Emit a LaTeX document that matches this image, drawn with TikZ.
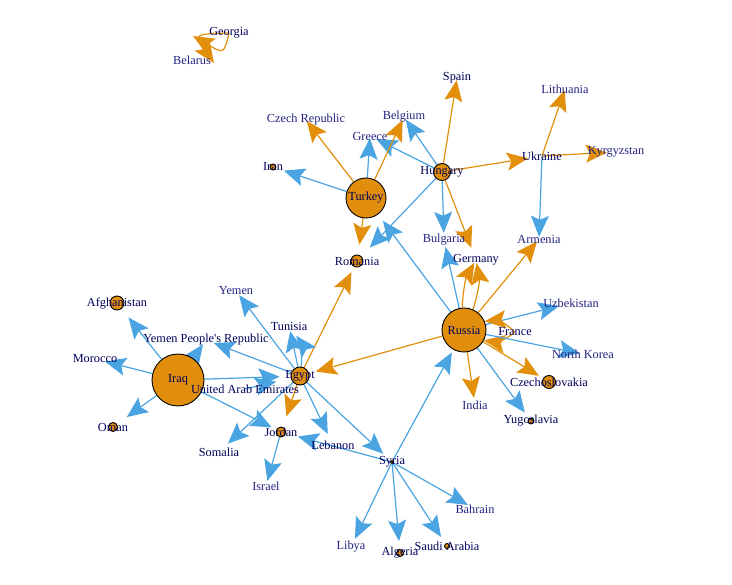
\documentclass[tikz,border=0pt]{standalone}
\usepackage{fontspec}
\setmainfont{Liberation Serif}
\usetikzlibrary{arrows.meta}
\pgfdeclarelayer{edges}
\pgfsetlayers{edges,main}
\definecolor{eblue}{RGB}{74,164,226}
\definecolor{eorange}{RGB}{226,143,12}
\definecolor{nfill}{RGB}{224,142,12}
\definecolor{tdark}{RGB}{0,0,90}
\definecolor{tlight}{RGB}{34,34,130}
\tikzset{
  dot0/.style={circle, inner sep=0pt, minimum size=0pt},
  vtx/.style={circle, inner sep=0pt, draw=black, line width=0.9pt, fill=nfill, minimum size=#1},
  lab/.style={font=\fontsize{12.3}{14}\selectfont, text=tdark, inner sep=0pt},
  labl/.style={lab, text=tlight},
  tipst/.style={-{Stealth[length=21pt,width=18pt,inset=4pt]}},
  be/.style={draw=eblue, line width=1.2pt, tipst, shorten >=#1},
  be/.default=2pt,
  oe/.style={draw=eorange, line width=1.2pt, tipst, shorten >=#1},
  oe/.default=2pt
}
\begin{document}
\begin{tikzpicture}[x=1pt,y=-1pt]
\useasboundingbox (0,0) rectangle (732,585);
% vertices
\node[dot0] (geo) at (229,33) {};
\node[dot0] (bel) at (192,60) {};
\node[dot0] (spa) at (457,78) {};
\node[dot0] (lit) at (565,89) {};
\node[dot0] (cze) at (306,120) {};
\node[dot0] (bgm) at (404,117) {};
\node[dot0] (gre) at (370,136) {};
\node[dot0] (kyr) at (616,152) {};
\node[dot0] (ukr) at (542,156) {};
\node[vtx=6pt] (irn) at (273,167) {};
\node[vtx=17pt] (hun) at (442,172) {};
\node[vtx=40pt] (tur) at (366,198) {};
\node[dot0] (bul) at (444,240) {};
\node[dot0] (arm) at (539,239) {};
\node[vtx=12pt] (rom) at (357,261) {};
\node[dot0] (ger) at (476,260) {};
\node[dot0] (yem) at (236,291) {};
\node[vtx=14pt] (afg) at (117,303) {};
\node[dot0] (uzb) at (571,303) {};
\node[dot0] (tun) at (289,326) {};
\node[vtx=44pt] (rus) at (464,330) {};
\node[dot0] (fra) at (515,332) {};
\node[dot0] (ypr) at (206,340) {};
\node[dot0] (mor) at (95,359) {};
\node[dot0] (nko) at (583,354) {};
\node[vtx=52pt] (irq) at (178,380) {};
\node[vtx=18pt] (egy) at (300,376) {};
\node[dot0] (uae) at (245,389) {};
\node[vtx=13pt] (csk) at (549,382) {};
\node[dot0] (ind) at (475,405) {};
\node[vtx=9pt] (oma) at (113,427) {};
\node[vtx=6pt] (yug) at (531,421) {};
\node[vtx=10pt] (jor) at (281,432) {};
\node[dot0] (som) at (219,452) {};
\node[dot0] (leb) at (333,445) {};
\node[vtx=3pt] (syr) at (392,462) {};
\node[dot0] (isr) at (266,486) {};
\node[dot0] (bah) at (475,509) {};
\node[dot0] (lib) at (351,547) {};
\node[vtx=7pt] (alg) at (400,553) {};
\node[vtx=5pt] (sau) at (447,546) {};
\coordinate (tipA) at (193,36);
\coordinate (tipB) at (214,63);
% labels
\node[lab] (l-geo) at (geo) {Georgia};
\node[labl] (l-bel) at (bel) {Belarus};
\node[lab] (l-spa) at (spa) {Spain};
\node[labl] (l-lit) at (lit) {Lithuania};
\node[labl] (l-cze) at (cze) {Czech Republic};
\node[labl] (l-bgm) at (bgm) {Belgium};
\node[labl] (l-gre) at (gre) {Greece};
\node[labl] (l-kyr) at (kyr) {Kyrgyzstan};
\node[lab] (l-ukr) at (ukr) {Ukraine};
\node[lab] (l-irn) at (irn) {Iran};
\node[lab] (l-hun) at (hun) {Hungary};
\node[lab] (l-tur) at (tur) {Turkey};
\node[labl] (l-bul) at (bul) {Bulgaria};
\node[labl] (l-arm) at (arm) {Armenia};
\node[lab] (l-rom) at (rom) {Romania};
\node[lab] (l-ger) at (ger) {Germany};
\node[labl] (l-yem) at (yem) {Yemen};
\node[lab] (l-afg) at (afg) {Afghanistan};
\node[labl] (l-uzb) at (uzb) {Uzbekistan};
\node[lab] (l-tun) at (tun) {Tunisia};
\node[lab] (l-rus) at (rus) {Russia};
\node[lab] (l-fra) at (fra) {France};
\node[lab] (l-ypr) at (ypr) {Yemen People\textquotesingle s Republic};
\node[lab] (l-mor) at (mor) {Morocco};
\node[labl] (l-nko) at (nko) {North Korea};
\node[lab] (l-irq) at (irq) {Iraq};
\node[lab] (l-egy) at (egy) {Egypt};
\node[lab] (l-uae) at (uae) {United Arab Emirates};
\node[lab] (l-csk) at (csk) {Czechoslovakia};
\node[labl] (l-ind) at (ind) {India};
\node[lab] (l-oma) at (oma) {Oman};
\node[lab] (l-yug) at (yug) {Yugoslavia};
\node[lab] (l-jor) at (jor) {Jordan};
\node[lab] (l-som) at (som) {Somalia};
\node[lab] (l-leb) at (leb) {Lebanon};
\node[lab] (l-syr) at (syr) {Syria};
\node[labl] (l-isr) at (isr) {Israel};
\node[labl] (l-bah) at (bah) {Bahrain};
\node[labl] (l-lib) at (lib) {Libya};
\node[lab] (l-alg) at (alg) {Algeria};
\node[lab] (l-sau) at (sau) {Saudi Arabia};
% edges
\begin{pgfonlayer}{edges}
\draw[oe=0pt] (geo) .. controls (224,54) .. (tipA);
\draw[oe=0pt] (geo) .. controls (194,34) .. (tipB);
\draw[oe=2pt] (hun) -- (spa);
\draw[oe=1pt] (ukr) -- (lit);
\draw[oe=9pt] (ukr) -- (kyr);
\draw[oe=14pt] (hun) -- (ukr);
\draw[be=2pt] (ukr) -- (arm);
\draw[be=3pt] (hun) -- (bgm);
\draw[be=7pt] (hun) -- (gre);
\draw[be=2pt] (tur) -- (gre);
\draw[oe=3pt] (tur) -- (bgm);
\draw[oe=1pt] (tur) -- (cze);
\draw[be=8pt] (tur) -- (irn);
\draw[oe=10pt] (tur) -- (rom);
\draw[be=12pt] (hun) -- (rom);
\draw[be=8pt] (rus) -- (tur);
\draw[be=7pt] (hun) -- (bul);
\draw[oe=13pt] (hun) -- (ger);
\draw[be=7pt] (rus) -- (bul);
\draw[oe=3pt] (rus) to[bend left=14] (ger);
\draw[oe=3pt] (rus) to[bend right=14] (ger);
\draw[oe=3pt] (rus) -- (arm);
\draw[be=12pt] (rus) -- (uzb);
\draw[oe=0pt] (fra) to[bend left=25] (rus);
\draw[oe=0pt] (fra) to[bend right=25] (rus);
\draw[be=3pt] (rus) -- (nko);
\draw[oe=5pt] (rus) -- (csk);
\draw[be=7pt] (rus) -- (yug);
\draw[oe=7pt] (rus) -- (ind);
\draw[be=3pt] (syr) -- (rus);
\draw[oe=7pt] (rus) -- (egy);
\draw[oe=6pt] (egy) -- (rom);
\draw[be=5pt] (egy) -- (yem);
\draw[be=5pt] (egy) -- (tun);
\draw[be=12pt] (egy) to[bend right=20] (tun);
\draw[be=8pt] (egy) -- (ypr);
\draw[be=5pt] (irq) -- (ypr);
\draw[be=11pt] (irq) -- (egy);
\draw[be=15pt] (uae) -- (egy);
\draw[be=11pt] (irq) -- (afg);
\draw[be=10pt] (irq) -- (mor);
\draw[be=12pt] (irq) -- (oma);
\draw[be=5pt] (irq) -- (jor);
\draw[oe=11pt] (egy) -- (jor);
\draw[be=12pt] (egy) -- (som);
\draw[be=12pt] (egy) -- (leb);
\draw[be=10pt] (egy) -- (syr);
\draw[be=12pt] (syr) -- (jor);
\draw[be=5pt] (jor) -- (isr);
\draw[be=8pt] (syr) -- (bah);
\draw[be=9pt] (syr) -- (lib);
\draw[be=8pt] (syr) -- (alg);
\draw[be=8pt] (syr) -- (sau);
\end{pgfonlayer}
\end{tikzpicture}
\end{document}
